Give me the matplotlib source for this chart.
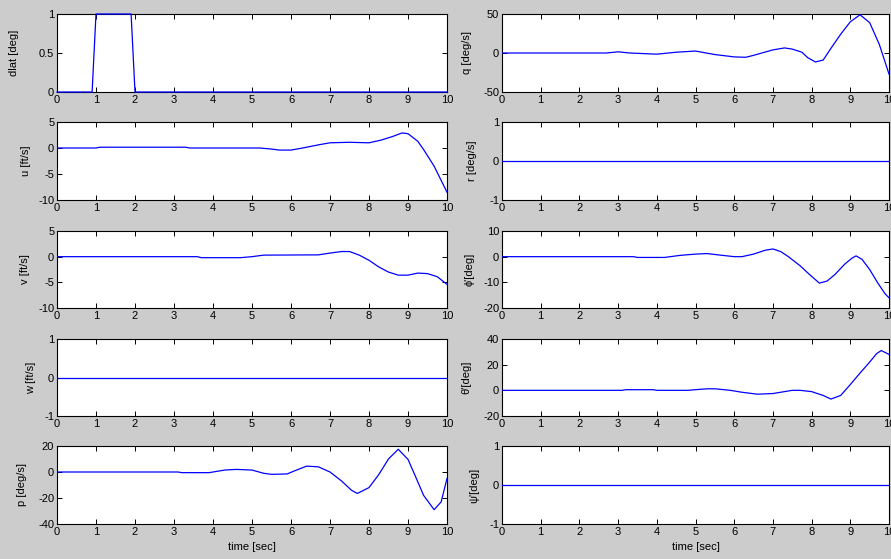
import matplotlib
matplotlib.use("Agg")
import matplotlib.pyplot as plt

plt.rcParams['font.family'] = ['Liberation Sans', 'DejaVu Sans']
plt.rcParams['axes.unicode_minus'] = False

# ---------------- data ----------------
t_dlat = [0, 0.9, 1.0, 1.9, 2.0, 10]
dlat = [0, 0, 1, 1, 0, 0]

t_u = [0, 1.0, 1.1, 3.3, 3.4, 5.2, 5.5, 5.7, 6.0, 6.3, 6.7, 7.0, 7.5, 8.0, 8.3, 8.6, 8.85, 9.0, 9.25, 9.4, 9.67, 10]
u = [0, 0, 0.15, 0.15, 0, 0, -0.2, -0.4, -0.4, 0, 0.6, 1.0, 1.1, 1.0, 1.5, 2.2, 2.9, 2.75, 1.3, -0.3, -3.5, -8.5]

t_v = [0, 3.6, 3.7, 4.7, 5.0, 5.3, 6.7, 7.0, 7.3, 7.5, 7.75, 8.0, 8.25, 8.5, 8.75, 9.0, 9.25, 9.5, 9.75, 10]
v = [0, 0, -0.2, -0.2, 0, 0.3, 0.35, 0.7, 1.0, 1.0, 0.3, -0.7, -2.0, -3.0, -3.6, -3.6, -3.2, -3.3, -3.9, -5.4]

t_w = [0, 10]
w = [0, 0]

t_p = [0, 3.1, 3.2, 3.9, 4.0, 4.3, 4.6, 5.0, 5.3, 5.5, 5.9, 6.1, 6.4, 6.7, 7.0, 7.3, 7.55, 7.7, 8.0, 8.25, 8.5, 8.75, 9.0, 9.2, 9.4, 9.67, 9.85, 10]
p = [0, 0, -0.5, -0.5, 0, 1.5, 2.0, 1.5, -1.0, -1.8, -1.5, 1.0, 4.5, 4.0, 0, -7, -14, -16.5, -12, -2, 10, 17.5, 9.7, -4, -18, -29, -23, -5]

t_q = [0, 2.7, 3.0, 3.3, 4.0, 4.5, 5.0, 5.5, 6.0, 6.3, 6.5, 7.0, 7.3, 7.5, 7.75, 7.9, 8.1, 8.3, 8.5, 8.75, 9.0, 9.25, 9.5, 9.75, 10]
q = [0, 0, 1.5, 0, -1.5, 1.0, 2.5, -2.0, -5.0, -5.5, -3.0, 4.0, 6.5, 5.0, 1.0, -6.0, -11.5, -9.0, 6.0, 24, 40, 49, 39, 11, -27]

t_r = [0, 10]
r = [0, 0]

t_phi = [0, 3.4, 3.5, 4.2, 4.6, 5.0, 5.3, 5.7, 6.0, 6.2, 6.5, 6.8, 7.0, 7.2, 7.4, 7.7, 7.95, 8.2, 8.4, 8.6, 8.85, 9.05, 9.15, 9.3, 9.5, 9.7, 9.9, 10]
phi = [0, 0, -0.3, -0.3, 0.5, 1.0, 1.2, 0.5, 0, 0, 1.0, 2.5, 3.0, 2.0, 0, -3.5, -7.0, -10.3, -9.5, -7.0, -3.0, -0.5, 0.3, -1.0, -5.0, -10.0, -14.5, -16.0]

t_theta = [0, 3.1, 3.2, 3.9, 4.0, 4.8, 5.0, 5.3, 5.5, 5.9, 6.2, 6.6, 7.0, 7.3, 7.5, 7.7, 8.0, 8.3, 8.5, 8.75, 9.0, 9.25, 9.5, 9.68, 9.8, 10]
theta = [0, 0, 0.5, 0.5, 0, 0, 0.5, 1.2, 1.2, 0, -1.5, -3.0, -2.5, -1.0, 0, 0, -1.0, -4.0, -6.8, -4.0, 4.5, 13.4, 22, 28.6, 31, 28]

t_psi = [0, 10]
psi = [0, 0]

left_panels = [
    (t_dlat, dlat, 'dlat [deg]', (0, 1), [0, 0.5, 1], ['0', '0.5', '1'], -0.097),
    (t_u, u, 'u [ft/s]', (-10, 5), [-10, -5, 0, 5], None, -0.067),
    (t_v, v, 'v [ft/s]', (-10, 5), [-10, -5, 0, 5], None, -0.069),
    (t_w, w, 'w [ft/s]', (-1, 1), [-1, 0, 1], None, -0.054),
    (t_p, p, 'p [deg/s]', (-40, 20), [-40, -20, 0, 20], None, -0.077),
]
right_panels = [
    (t_q, q, 'q [deg/s]', (-50, 50), [-50, 0, 50], None, -0.078),
    (t_r, r, 'r [deg/s]', (-1, 1), [-1, 0, 1], None, -0.065),
    (t_phi, phi, "ϕ'[deg]", (-20, 10), [-20, -10, 0, 10], None, -0.072),
    (t_theta, theta, "θ'[deg]", (-20, 40), [-20, 0, 20, 40], None, -0.078),
    (t_psi, psi, "ψ'[deg]", (-1, 1), [-1, 0, 1], None, -0.059),
]

W, H = 891, 559
fig = plt.figure(figsize=(W / 100, H / 100), dpi=100, facecolor='#cccccc')

rows = [(14, 92), (122, 200), (231, 308), (339, 416), (446, 524)]
cols = [(57, 447), (502, 889)]

for ci, panels in enumerate([left_panels, right_panels]):
    x0, x1 = cols[ci]
    for ri, (tt, yy, lab, ylim, yt, ytl, lx) in enumerate(panels):
        top, bot = rows[ri]
        ax = fig.add_axes([x0 / W, 1 - bot / H, (x1 - x0) / W, (bot - top) / H])
        ax.set_facecolor('white')
        ax.plot(tt, yy, color='#0000ff', lw=0.9, clip_on=(ci == 1 or ri != 0), zorder=3)
        ax.set_xlim(0, 10)
        ax.set_ylim(*ylim)
        ax.set_xticks(range(0, 11))
        ax.set_yticks(yt)
        if ytl is not None:
            ax.set_yticklabels(ytl)
        ax.tick_params(direction='in', length=3.5, width=0.7, top=True, right=True,
                       labelsize=8, pad=2, colors='black')
        for s in ax.spines.values():
            s.set_linewidth(0.8)
            s.set_color('black')
            s.set_zorder(2)
        ax.set_ylabel(lab, fontsize=8)
        ax.yaxis.set_label_coords(lx, 0.5)
        if ri == 4:
            ax.set_xlabel('time [sec]', fontsize=8)
            ax.xaxis.set_label_coords(0.5, -0.23)

fig.savefig('out.png', dpi=100, facecolor=fig.get_facecolor())
